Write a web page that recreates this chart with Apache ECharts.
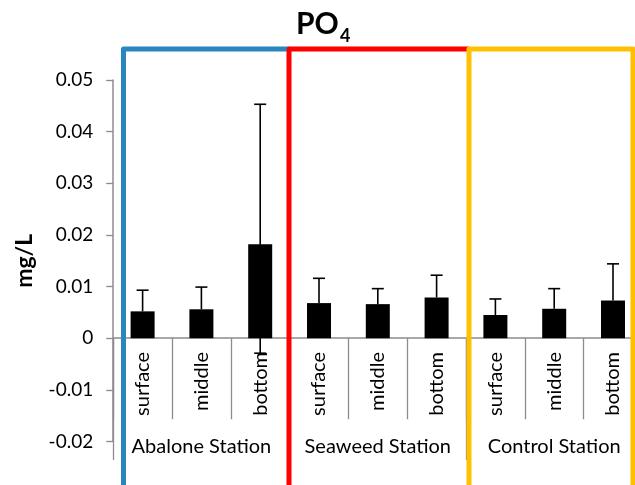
<!DOCTYPE html>
<html>
<head>
<meta charset="utf-8">
<script src="https://cdn.jsdelivr.net/npm/echarts@6/dist/echarts.min.js"></script>
<style>html,body{margin:0;padding:0;background:#fff;}#c{width:635px;height:485px;}</style>
</head>
<body>
<div id="c"></div>
<script>
const categories = ['surface','middle','bottom','surface','middle','bottom','surface','middle','bottom'];
const groups = ['Abalone Station','Seaweed Station','Control Station'];
const meanValues = [0.0052,0.0056,0.0182,0.0068,0.0066,0.0079,0.0045,0.0057,0.0073];
const errorTop = [0.0093,0.0099,0.0453,0.0116,0.0096,0.0122,0.0076,0.0096,0.0144];
const errorBottom = [null,null,-0.0029,null,null,null,null,null,null];
const yMin = -0.02, yMax = 0.05, yStep = 0.01;

const FONT = 'Lato, "Open Sans", sans-serif';
const GRAY = '#8c8c8c';

const chart = echarts.init(document.getElementById('c'), null, {renderer:'canvas'});
const errData = categories.map((c,i)=>[i, meanValues[i], errorTop[i], errorBottom[i]]);

chart.setOption({
  animation:false,
  backgroundColor:'#fff',
  grid:{left:113.2, right:-7.4, top:80, bottom:43.5, containLabel:false, outerBoundsMode:'none'},
  xAxis:[{
    type:'category', data:categories, position:'bottom',
    axisLine:{onZero:true, lineStyle:{color:GRAY, width:1.5}},
    axisTick:{show:true, length:81, lineStyle:{color:GRAY, width:1.3}},
    axisLabel:{rotate:90, margin:-89.5, interval:0, hideOverlap:false, fontFamily:FONT, fontSize:20, color:'#000'},
    splitLine:{show:false}
  },{
    type:'category', data:groups, position:'bottom',
    axisLine:{onZero:false, show:false},
    axisTick:{show:true, length:18.5, lineStyle:{color:GRAY, width:1.3}},
    axisLabel:{margin:-5, interval:0, hideOverlap:false, fontFamily:FONT, fontSize:20, color:'#000'},
    splitLine:{show:false}
  },{
    type:'category', data:groups, position:'bottom',
    axisLine:{onZero:false, show:false},
    axisTick:{show:true, inside:true, length:103.5, lineStyle:{color:GRAY, width:1.3}},
    axisLabel:{show:false},
    splitLine:{show:false}
  }],
  yAxis:{
    type:'value', min:yMin, max:yMax, interval:yStep,
    name:'mg/L', nameLocation:'middle', nameRotate:90, nameGap:77,
    nameTextStyle:{fontFamily:FONT, fontSize:23, fontWeight:'bold', color:'#000'},
    axisLine:{show:true, lineStyle:{color:GRAY, width:1.5}},
    axisTick:{show:true, length:7, lineStyle:{color:GRAY, width:1.3}},
    axisLabel:{margin:20, fontFamily:FONT, fontSize:19, color:'#000',
      formatter:v=> Math.abs(v)<1e-9 ? '0' : v.toFixed(2)},
    splitLine:{show:false}
  },
  series:[{
    type:'bar', data:meanValues, barWidth:24, itemStyle:{color:'#000'}, z:2
  },{
    type:'custom', data:errData, z:3,
    encode:{x:0, y:[1,2]},
    renderItem:function(params, api){
      const i = api.value(0);
      const base = api.coord([i, api.value(1)]);
      const top = api.coord([i, api.value(2)]);
      const children = [];
      const st = {stroke:'#000', lineWidth:1.6};
      children.push({type:'line', shape:{x1:base[0],y1:base[1],x2:top[0],y2:top[1]}, style:st});
      children.push({type:'line', shape:{x1:top[0]-6,y1:top[1],x2:top[0]+6,y2:top[1]}, style:st});
      const lowV = errorBottom[i];
      if (lowV !== null && lowV !== undefined){
        const low = api.coord([i, lowV]);
        children.push({type:'line', shape:{x1:base[0],y1:base[1],x2:low[0],y2:low[1]}, style:st});
        children.push({type:'line', shape:{x1:low[0]-6,y1:low[1],x2:low[0]+6,y2:low[1]}, style:st});
      }
      return {type:'group', children:children};
    }
  }],
  graphic:[
    {type:'polyline', z:10, shape:{points:[[123.5,490],[123.5,49],[289,49]]}, style:{stroke:'#2A86C0', lineWidth:5, fill:null, lineJoin:'round'}},
    {type:'polyline', z:11, shape:{points:[[289,490],[289,49],[469,49]]}, style:{stroke:'#FF0000', lineWidth:5, fill:null, lineJoin:'round'}},
    {type:'polyline', z:12, shape:{points:[[469,490],[469,49],[633,49],[633,490]]}, style:{stroke:'#FFC000', lineWidth:5, fill:null, lineJoin:'round'}},
    {type:'text', z:20, left:296, top:9, style:{text:'PO', font:'bold 30px '+FONT, fill:'#000'}},
    {type:'text', z:20, left:340, top:27, style:{text:'4', font:'bold 18px '+FONT, fill:'#000'}}
  ]
});
</script>
</body>
</html>
